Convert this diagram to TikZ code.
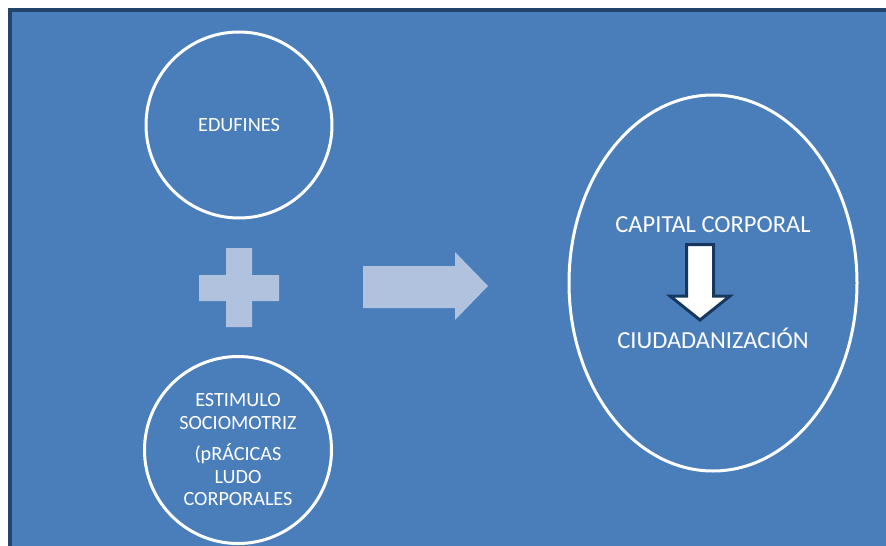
\documentclass[tikz,border=0pt]{standalone}
\usepackage{fontspec}
\setmainfont{Carlito}
\usetikzlibrary{shapes.geometric}
\definecolor{bgblue}{HTML}{4A7EBB}
\definecolor{frame}{HTML}{25446B}
\definecolor{lightshape}{HTML}{B0C2DE}
\definecolor{navy}{HTML}{17375E}
\begin{document}
\begin{tikzpicture}[x=1pt,y=-1pt,
  ring/.style={circle,draw=white,line width=3pt,inner sep=0pt,text=white,align=center},
  lbl/.style={text=white,inner sep=0pt,font=\fontsize{24.5}{28}\selectfont},
  lightfill/.style={fill=lightshape,draw=none},
  blockarrow/.style={fill=white,draw=navy,line width=3pt,line join=miter}]
\useasboundingbox (0,0) rectangle (886,546);
\fill[white] (0,0) rectangle (886,546);
\fill[bgblue] (10,10) rectangle (890,550);
\draw[frame,line width=4pt] (10,552) -- (10,10) -- (890,10);
% circles
\node[ring,minimum size=186pt,font=\fontsize{20.2}{23}\selectfont] (edu) at (239,125) {EDUFINES};
\node[ring,minimum size=187pt,font=\fontsize{20.2}{22.5}\selectfont] (est) at (238,450)
  {ESTIMULO\\SOCIOMOTRIZ\\[9pt](pRÁCICAS\\LUDO\\CORPORALES};
\node[ellipse,draw=white,line width=3pt,minimum width=288pt,minimum height=376pt,inner sep=0pt] (res) at (713,283) {};
% plus sign
\path[lightfill] (226,248) -- (252,248) -- (252,275) -- (279,275) -- (279,301) -- (252,301)
  -- (252,327) -- (226,327) -- (226,301) -- (199,301) -- (199,275) -- (226,275) -- cycle;
% right block arrow
\path[lightfill] (363,266) -- (455,266) -- (455,252) -- (488,286) -- (455,320) -- (455,308) -- (363,308) -- cycle;
% texts in ellipse
\node[lbl] (cap) at (713,225) {CAPITAL CORPORAL};
\node[lbl] (ciu) at (713,338) {CIUDADANIZACIÓN};
% down block arrow
\draw[blockarrow] (686.5,244.5) -- (713.5,244.5) -- (713.5,296) -- (730,296) -- (700,320)
  -- (670,296) -- (686.5,296) -- cycle;
\end{tikzpicture}
\end{document}
